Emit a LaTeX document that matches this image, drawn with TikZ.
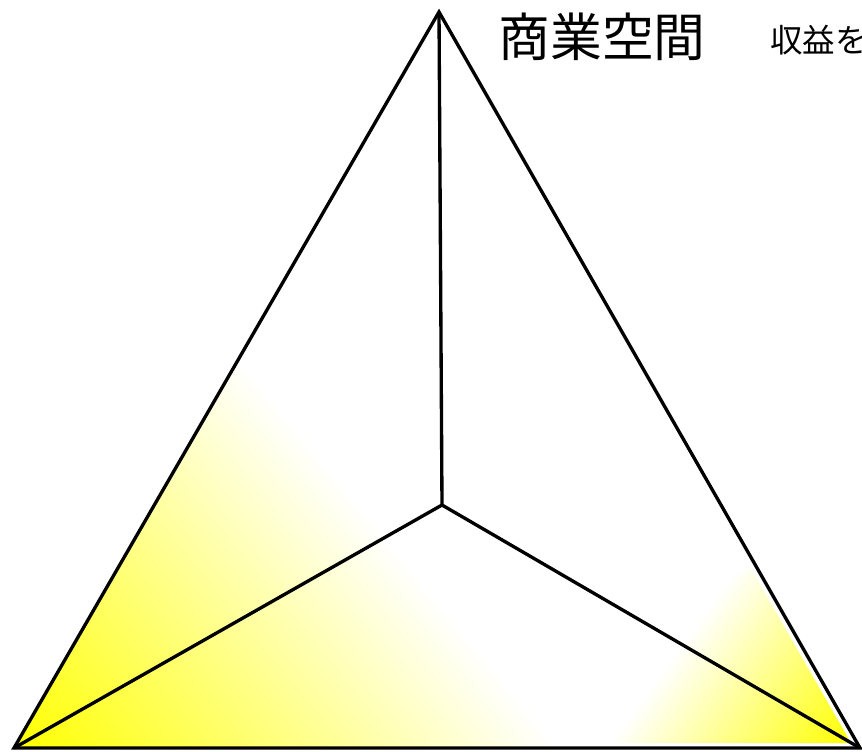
\documentclass[tikz,border=0pt]{standalone}
\usepackage{fontspec}
\newfontfamily\cjk{Noto Sans CJK JP}
\usetikzlibrary{positioning}

\begin{document}
\begin{tikzpicture}[
    x=0.02cm, y=0.02cm,
    edge/.style={line width=1.9pt, line join=miter},
    titlelabel/.style={font=\cjk\fontsize{29.5pt}{32pt}\selectfont},
    sidelabel/.style={font=\cjk\fontsize{18.5pt}{20pt}\selectfont, anchor=west}
]
    \useasboundingbox (0,0) rectangle (862,751);

    % Vertices
    \coordinate (apex) at (439,739);
    \coordinate (left) at (14,3);
    \coordinate (right) at (860,3);
    \coordinate (center) at (442,246);

    % Yellow gradients
    \begin{scope}
        \clip (apex) -- (left) -- (right) -- cycle;
        \shade[transform canvas={shift={(left)}, rotate=39.5}, left color=yellow, right color=white] (0,-700) rectangle (421,700);
    \end{scope}
    \begin{scope}
        \clip (750,184) -- (851,8) -- (500,8) -- cycle;
        \shade[transform canvas={shift={(851,8)}, rotate=144.2}, left color=yellow, right color=white] (0,-400) rectangle (195,400);
    \end{scope}

    % Edges
    \draw[edge] (apex) -- (left) -- (right) -- cycle;
    \draw[edge] (apex) -- (center);
    \draw[edge] (left) -- (center);
    \draw[edge] (right) -- (center);

    % Labels
    \node[titlelabel] (title) at (602,714) {商業空間};
    \node[sidelabel] (side) at (764,711) {収益を};
\end{tikzpicture}
\end{document}
